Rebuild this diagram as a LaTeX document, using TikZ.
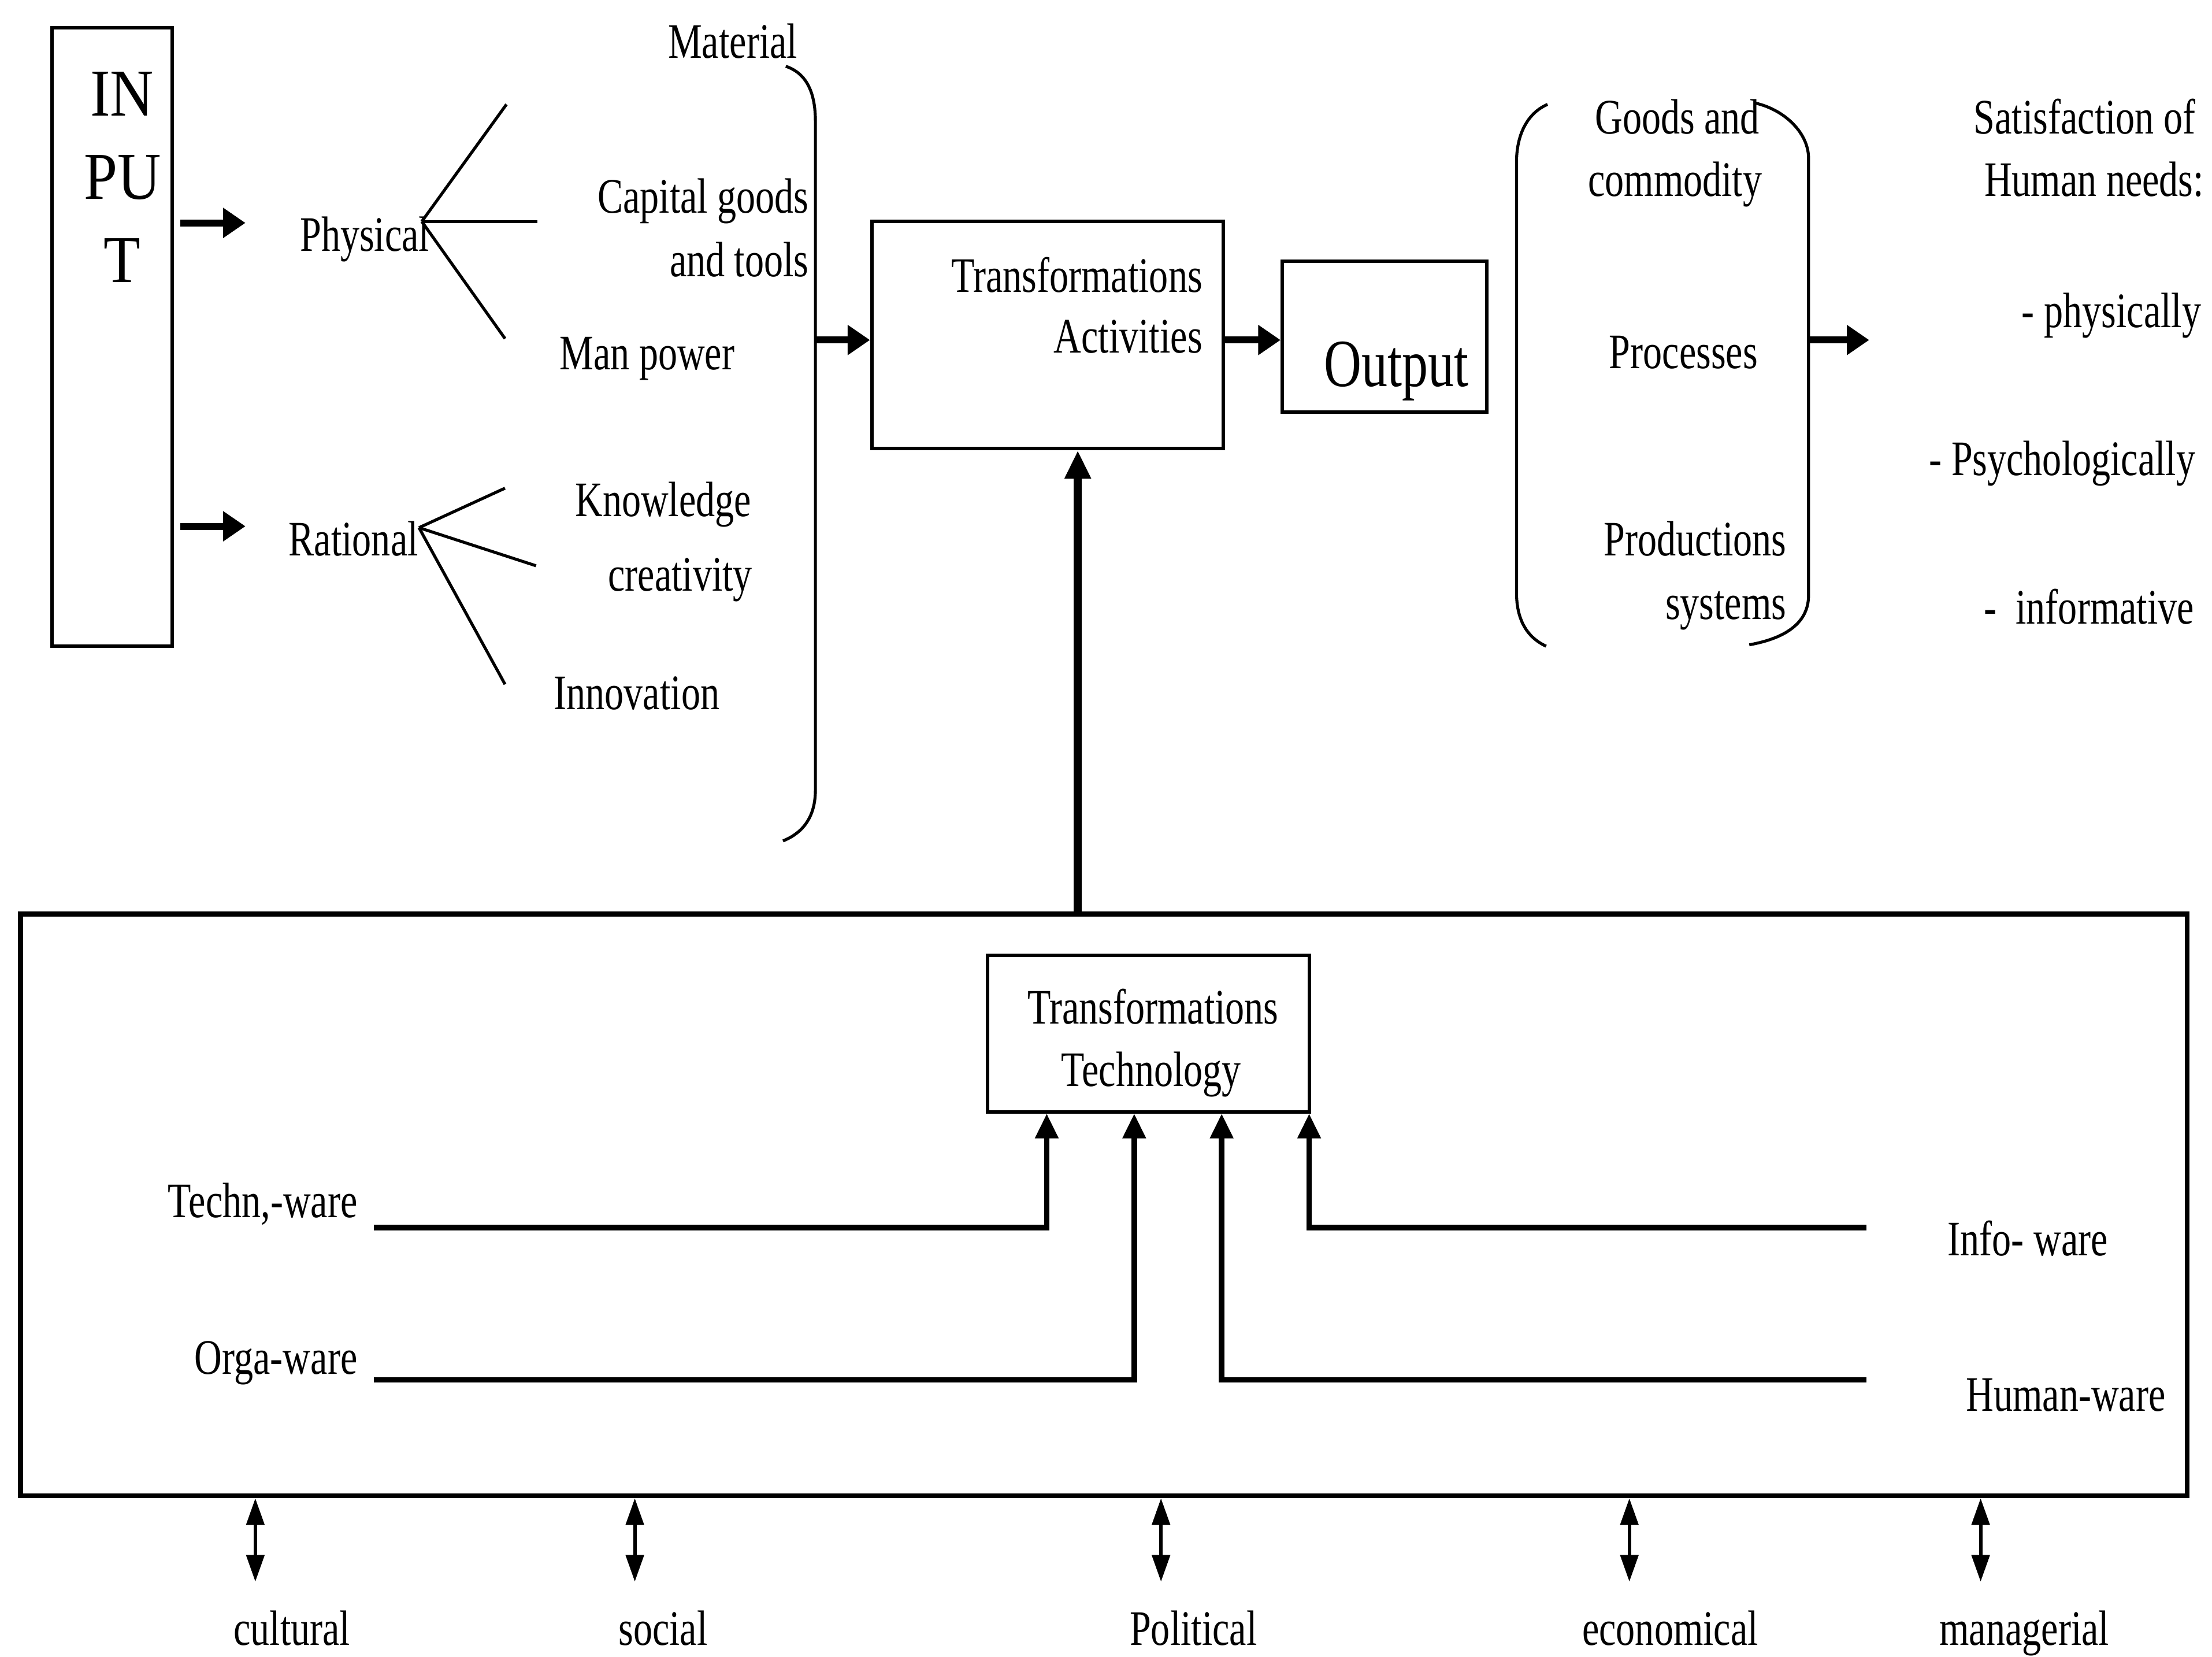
\documentclass[tikz,border=0pt]{standalone}
\usepackage{fontspec}
\setmainfont{Liberation Serif}[FakeStretch=0.77]
\newfontfamily\wideserif{Liberation Serif}[FakeStretch=0.9]
\usetikzlibrary{arrows.meta}
\begin{document}
\begin{tikzpicture}[x=0.01cm,y=-0.01cm,
  lbl/.style={inner sep=0pt, font=\fontsize{10}{12}\selectfont},
  biglbl/.style={inner sep=0pt, font=\fontsize{13.6}{16}\selectfont},
  inlbl/.style={inner sep=0pt, font=\wideserif\fontsize{13.5}{16}\selectfont},
  box/.style={draw, line width=0.7pt, inner sep=0pt},
  thinline/.style={line width=0.6pt},
  barrow/.style={line width=1.4pt, -{Triangle[length=4.5pt,width=5.8pt]}},
  varrow/.style={line width=1.7pt, -{Triangle[length=5.7pt,width=5pt]}},
  tarrow/.style={line width=1.1pt, -{Triangle[length=5pt,width=4.5pt]}},
  darrow/.style={line width=0.7pt, {Triangle[length=5.4pt,width=3.6pt]}-{Triangle[length=5.4pt,width=3.6pt]}}
]
\useasboundingbox (0,0) rectangle (1568,1174);
\fill[white] (0,0) rectangle (1568,1174);

% ---------- INPUT ----------
\node[box, minimum width=0.85cm, minimum height=4.38cm] (input) at (79.5,239) {};
\node[inlbl, anchor=base] (in1) at (86.5,82) {IN};
\node[inlbl, anchor=base] (in2) at (87,141) {PU};
\node[inlbl, anchor=base] (in3) at (86.5,200) {T};

\coordinate (a1s) at (128,158);
\coordinate (a1e) at (174,158);
\coordinate (a2s) at (128,373);
\coordinate (a2e) at (174,373);
\draw[barrow] (a1s) -- (a1e);
\draw[barrow] (a2s) -- (a2e);

\node[lbl, anchor=base west] (physical) at (212,178) {Physical};
\node[lbl, anchor=base west] (rational) at (204,394) {Rational};

\coordinate (pj) at (299,157);
\coordinate (pe1) at (359,74);
\coordinate (pe2) at (381,157);
\coordinate (pe3) at (358,240);
\draw[thinline] (pj) -- (pe1);
\draw[thinline] (pj) -- (pe2);
\draw[thinline] (pj) -- (pe3);

\coordinate (rj) at (297,374);
\coordinate (re1) at (358,346);
\coordinate (re2) at (380,401);
\coordinate (re3) at (358,485);
\draw[thinline] (rj) -- (re1);
\draw[thinline] (rj) -- (re2);
\draw[thinline] (rj) -- (re3);

\node[lbl, anchor=base east] (material) at (566,41) {Material};
\node[lbl, anchor=base east] (capital1) at (574,151) {Capital goods};
\node[lbl, anchor=base east] (capital2) at (574,196) {and tools};
\node[lbl, anchor=base west] (manpower) at (396,262) {Man power};
\node[lbl, anchor=base west] (knowledge) at (407,366) {Knowledge};
\node[lbl, anchor=base east] (creativity) at (534,419) {creativity};
\node[lbl, anchor=base west] (innovation) at (392,503) {Innovation};

% input brace
\draw[thinline] (557,47) .. controls (572,52) and (578,66) .. (578,86)
  -- (578,560) .. controls (578,578) and (570,590) .. (555,596);

% ---------- Transformations Activities ----------
\node[box, minimum width=2.49cm, minimum height=1.61cm] (ta) at (742.5,237.5) {};
\node[lbl, anchor=base east] (ta1) at (853,207) {Transformations};
\node[lbl, anchor=base east] (ta2) at (853,250) {Activities};

\coordinate (ib) at (578,241);
\draw[barrow] (ib) -- (ib -| ta.west);

% ---------- Output ----------
\node[box, minimum width=1.45cm, minimum height=1.07cm] (outbox) at (981.5,238.5) {};
\node[biglbl, anchor=base west] (outtext) at (938,274) {Output};
\draw[barrow] (ta.east |- ib) -- (outbox.west |- ib);

% output parentheses
\draw[thinline] (1097,74) .. controls (1083,80) and (1075,95) .. (1075,115)
  -- (1075,420) .. controls (1075,440) and (1083,452) .. (1096,458);
\draw[thinline] (1244,73) .. controls (1266,78) and (1282,95) .. (1282,112)
  -- (1282,422) .. controls (1282,440) and (1268,452) .. (1240,457);

\node[lbl, anchor=base west] (goods1) at (1130,95) {Goods and};
\node[lbl, anchor=base west] (goods2) at (1125,139) {commodity};
\node[lbl, anchor=base west] (processes) at (1140,261) {Processes};
\node[lbl, anchor=base east] (prod1) at (1267,394) {Productions};
\node[lbl, anchor=base east] (prod2) at (1267,439) {systems};

\coordinate (rp) at (1282,241);
\coordinate (rpe) at (1325,241);
\draw[barrow] (rp) -- (rpe);

\node[lbl, anchor=base east] (sat1) at (1557,95) {Satisfaction of};
\node[lbl, anchor=base east] (sat2) at (1563,139) {Human needs:};
\node[lbl, anchor=base east] (physically) at (1561,232) {- physically};
\node[lbl, anchor=base east] (psycho) at (1557,337) {- Psychologically};
\node[lbl, anchor=base east] (informative) at (1556,442) {-\ \ informative};

% ---------- Bottom box ----------
\node[draw, line width=1pt, inner sep=0pt, minimum width=15.35cm, minimum height=4.12cm] (bigbox) at (782.5,854) {};
\coordinate (vx) at (764,0);
\draw[varrow] (bigbox.north -| vx) -- (ta.south -| vx);

\node[box, minimum width=2.28cm, minimum height=1.11cm] (tt) at (814,732.5) {};
\node[lbl, anchor=base west] (tt1) at (727.6,725.5) {Transformations};
\node[lbl, anchor=base west] (tt2) at (751.6,770) {Technology};

\node[lbl, anchor=base east] (techn) at (254,863) {Techn,-ware};
\node[lbl, anchor=base east] (orga) at (254,974) {Orga-ware};
\node[lbl, anchor=base west] (info) at (1380,890) {Info- ware};
\node[lbl, anchor=base west] (human) at (1393,1000) {Human-ware};

\coordinate (tl) at (265,870);
\coordinate (ol) at (265,978);
\coordinate (il) at (1323,870);
\coordinate (hl) at (1323,978);
\coordinate (tx1) at (742,0);
\coordinate (tx2) at (804,0);
\coordinate (tx3) at (866,0);
\coordinate (tx4) at (928,0);
\draw[tarrow] (tl) -| (tt.south -| tx1);
\draw[tarrow] (ol) -| (tt.south -| tx2);
\draw[tarrow] (hl) -| (tt.south -| tx3);
\draw[tarrow] (il) -| (tt.south -| tx4);

% ---------- bottom double arrows ----------
\coordinate (b1) at (181,1121);
\coordinate (b2) at (450,1121);
\coordinate (b3) at (823,1121);
\coordinate (b4) at (1155,1121);
\coordinate (b5) at (1404,1121);
\foreach \b in {b1,b2,b3,b4,b5}{
  \draw[darrow] (bigbox.south -| \b) -- (\b);
}
\node[lbl, anchor=base] (cultural) at (207,1166) {cultural};
\node[lbl, anchor=base] (social) at (470,1166) {social};
\node[lbl, anchor=base] (political) at (846,1166) {Political};
\node[lbl, anchor=base] (economical) at (1184,1166) {economical};
\node[lbl, anchor=base] (managerial) at (1435,1166) {managerial};
\end{tikzpicture}
\end{document}
